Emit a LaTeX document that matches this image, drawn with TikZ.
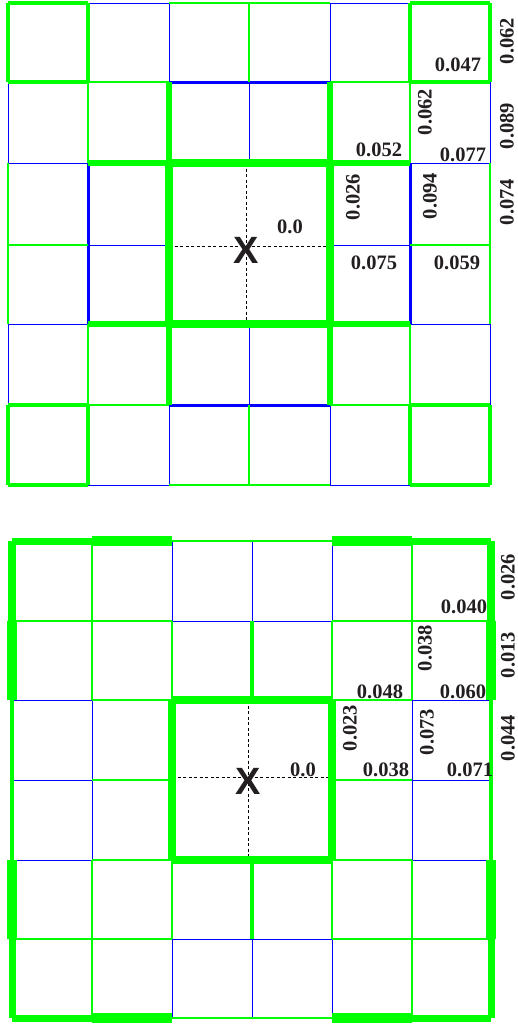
\documentclass[tikz,border=0pt]{standalone}
\usepackage{fontspec}
\setmainfont{Liberation Serif}
\newfontfamily\xfont{Liberation Sans}
\definecolor{gg}{RGB}{0,255,0}
\definecolor{bb}{RGB}{0,0,255}
\definecolor{labcol}{RGB}{35,31,32}
\tikzset{
  b1/.style={draw=bb,line width=0.9pt},
  b3/.style={draw=bb,line width=3pt},
  g1/.style={draw=gg,line width=1.3pt},
  g2/.style={draw=gg,line width=2.8pt},
  g3/.style={draw=gg,line width=3.5pt},
  g4/.style={draw=gg,line width=4.5pt},
  g5/.style={draw=gg,line width=5.5pt},
  g6/.style={draw=gg,line width=7pt},
  g7/.style={draw=gg,line width=7.5pt},
  g8/.style={draw=gg,line width=8.5pt},
  g9/.style={draw=gg,line width=10pt},
  g10/.style={draw=gg,line width=10pt},
  dashline/.style={draw=black,line width=0.7pt,dash pattern=on 3pt off 2.5pt},
  lab/.style={font=\fontsize{20.5}{24}\selectfont\bfseries,inner sep=0pt,text=labcol},
  rlab/.style={lab,rotate=90},
  xlab/.style={font=\xfont\fontsize{38}{40}\selectfont\bfseries,inner sep=0pt,text=labcol}
}
\def\TX{{8,88,169,249,330,410,490}}
\def\TY{{3,82,163,245,324,405,485}}
\def\BX{{12,92,172,252,332,412,491}}
\def\BY{{541,621,700,780,860,939,1018}}
\newcommand\mygrid[4]{%
  \foreach \pass in {b1,g1,b3,g2,g3,g4,g5,g6,g7,g8,g9,g10}{%
    \foreach \row [count=\j from 0] in {#3}{%
      \foreach \s [count=\i from 0] in \row{%
        \edef\tmpA{\s}\edef\tmpB{\pass}%
        \ifx\tmpA\tmpB
          \pgfmathsetmacro\xa{#1[\i]}%
          \pgfmathsetmacro\xb{#1[\i+1]}%
          \pgfmathsetmacro\yy{#2[\j]}%
          \draw[\s] (\xa,\yy) -- (\xb,\yy);
        \fi}}%
    \foreach \row [count=\j from 0] in {#4}{%
      \foreach \s [count=\i from 0] in \row{%
        \edef\tmpA{\s}\edef\tmpB{\pass}%
        \ifx\tmpA\tmpB
          \pgfmathsetmacro\xx{#1[\i]}%
          \pgfmathsetmacro\ya{#2[\j]}%
          \pgfmathsetmacro\yb{#2[\j+1]}%
          \draw[\s] (\xx,\ya) -- (\xx,\yb);
        \fi}}%
  }}
\begin{document}
\begin{tikzpicture}[x=1pt,y=-1pt]
\useasboundingbox (0,0) rectangle (518,1025);
% dashed cross lines
\coordinate (ta) at (246,163); \coordinate (tb) at (246,324);
\coordinate (tc) at (169,246); \coordinate (td) at (330,246);
\draw[dashline] (ta) -- (tb);
\draw[dashline] (tc) -- (td);
\coordinate (ba) at (248,700); \coordinate (bbot) at (248,860);
\coordinate (bc) at (172,777); \coordinate (bd) at (332,777);
\draw[dashline] (ba) -- (bbot);
\draw[dashline] (bc) -- (bd);
% top grid
\mygrid{\TX}{\TY}{%
  {g3,b1,g1,g1,b1,g3},
  {g3,g2,b3,b3,g2,g3},
  {b1,g5,g8,g8,g5,b1},
  {g2,b1,no,no,b1,g2},
  {b1,g5,g8,g8,g5,b1},
  {g3,g2,b3,b3,g2,g3},
  {g3,b1,g1,g1,b1,g3}}{%
  {g3,g4,b1,g2,b1,g4,g3},
  {b1,g2,g5,b1,g5,g2,b1},
  {g1,b3,g8,no,g8,b3,g1},
  {g1,b3,g8,no,g8,b3,g1},
  {b1,g2,g5,b1,g5,g2,b1},
  {g3,g4,b1,g2,b1,g4,g3}}
% bottom grid
\mygrid{\BX}{\BY}{%
  {g6,g9,g2,g2,g9,g6},
  {g2,g2,b1,b1,g2,g2},
  {b1,g1,g7,g7,g1,b1},
  {b1,g2,no,no,g2,b1},
  {b1,g1,g7,g7,g1,b1},
  {g2,g2,b1,b1,g2,g2},
  {g6,g9,g2,g2,g9,g6}}{%
  {g8,g2,b1,b1,b1,g2,g8},
  {g10,g2,g1,g3,g1,g2,g10},
  {g3,b1,g7,no,g7,b1,g3},
  {g3,b1,g7,no,g7,b1,g3},
  {g10,g2,g1,g3,g1,g2,g10},
  {g6,g2,b1,b1,b1,g2,g6}}
% top labels
\node[rlab] (t1) at (507,41) {0.062};
\node[lab] (t2) at (458,65) {0.047};
\node[rlab] (t3) at (425,112) {0.062};
\node[lab] (t4) at (463,155) {0.077};
\node[rlab] (t5) at (507,126) {0.089};
\node[lab] (t6) at (379,150) {0.052};
\node[rlab] (t7) at (353,197) {0.026};
\node[rlab] (t8) at (430,196) {0.094};
\node[rlab] (t9) at (507,202) {0.074};
\node[lab] (t10) at (290,227) {0.0};
\node[lab] (t11) at (374,263) {0.075};
\node[lab] (t12) at (457,263) {0.059};
\node[xlab] (x1) at (246,250) {X};
% bottom labels
\node[rlab] (u1) at (508,577) {0.026};
\node[lab] (u2) at (464,607) {0.040};
\node[rlab] (u3) at (425,648) {0.038};
\node[rlab] (u4) at (508,655) {0.013};
\node[lab] (u5) at (380,692) {0.048};
\node[lab] (u6) at (463,692) {0.060};
\node[rlab] (u7) at (350,728) {0.023};
\node[rlab] (u8) at (427,732) {0.073};
\node[rlab] (u9) at (508,738) {0.044};
\node[lab] (u10) at (303,770) {0.0};
\node[lab] (u11) at (386,770) {0.038};
\node[lab] (u12) at (470,770) {0.071};
\node[xlab] (x2) at (248,781) {X};
\end{tikzpicture}
\end{document}
